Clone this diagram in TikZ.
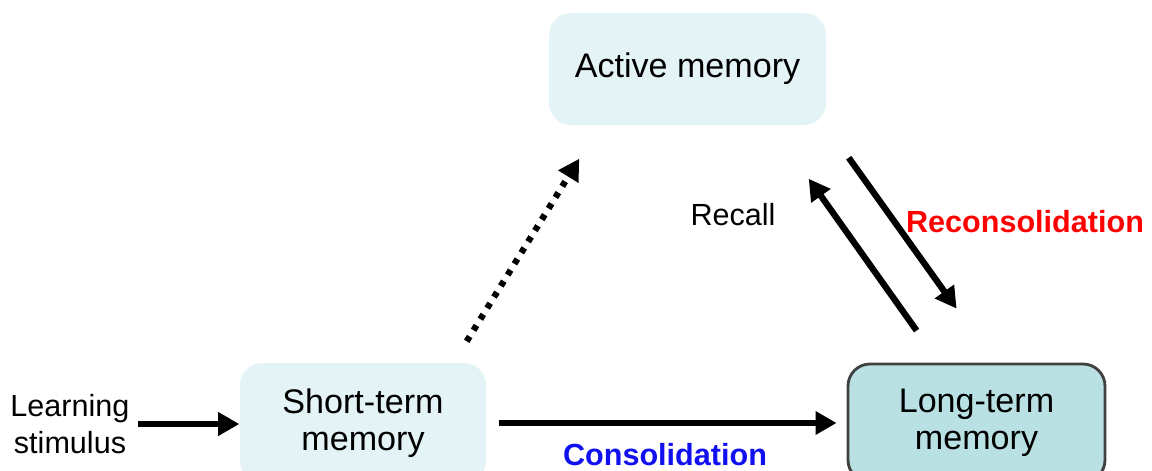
\documentclass[tikz,border=0pt]{standalone}
\usepackage{fontspec}
\setmainfont{Liberation Sans}
\usepackage{xcolor}
\usetikzlibrary{arrows.meta}

\definecolor{boxpale}{HTML}{E4F3F5}
\definecolor{boxteal}{HTML}{B9E1E3}
\definecolor{consblue}{HTML}{1010F0}

\tikzset{
	memorybox/.style={rounded corners=0.22cm,align=center,inner sep=0pt,
		font=\fontsize{9.7}{10.6}\selectfont},
	labeltext/.style={inner sep=0pt,font=\fontsize{8.7}{10.4}\selectfont},
	flow/.style={line width=1.8pt,-{Triangle[length=6pt,width=6.4pt]}}
}

\begin{document}
\begin{tikzpicture}
			\useasboundingbox (0,0) rectangle (11.52,4.70);
			\node[memorybox,fill=boxpale,minimum width=2.77cm,minimum height=1.12cm] (active) at (6.875,4.01) {Active memory};
			\node[memorybox,fill=boxpale,minimum width=2.46cm,minimum height=1.20cm] (short) at (3.63,0.47) {Short-term\\memory};
			\node[memorybox,fill=boxteal,draw=black!75,line width=0.8pt,minimum width=2.57cm,minimum height=1.18cm] (long) at (9.765,0.47) {Long-term\\memory};
			\node[labeltext,align=center] (stimulus) at (0.70,0.46) {Learning\\stimulus};

			\draw[flow,shorten <=0.08cm] (stimulus.east) -- (stimulus.east -| short.west);
			\draw[flow,shorten <=0.12cm,shorten >=0.10cm] (short.east) -- (long.west);
			\draw[flow,dash pattern=on 1.6pt off 2.1pt]
				([shift={(-0.20,0.21)}]short.north east) -- ([shift={(0.31,-0.33)}]active.south west);
			\draw[flow] ([shift={(0.70,0.32)}]long.north west) -- ([shift={(-0.18,-0.53)}]active.south east);
			\draw[flow] ([shift={(0.22,-0.32)}]active.south east) -- ([shift={(1.10,0.54)}]long.north west);

			\node[labeltext] (recall) at (7.33,2.55) {Recall};
			\node[labeltext,text=red,font=\fontsize{8.7}{10.4}\selectfont\bfseries] (recons) at (10.25,2.48) {Reconsolidation};
			\node[labeltext,text=consblue,font=\fontsize{8.7}{10.4}\selectfont\bfseries] (cons) at (6.65,0.15) {Consolidation};
		\end{tikzpicture}
\end{document}
